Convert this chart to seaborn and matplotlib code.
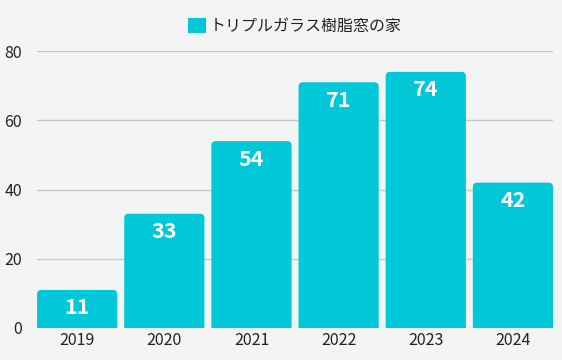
import matplotlib
matplotlib.use("Agg")
import matplotlib.pyplot as plt
import pandas as pd
import seaborn as sns
from matplotlib.patches import FancyBboxPatch, Patch

years = ["2019", "2020", "2021", "2022", "2023", "2024"]
values = [11, 33, 54, 71, 74, 42]
series_name = "トリプルガラス樹脂窓の家"

bar_color = "#00c8d8"
bg = "#f3f4f4"

sns.set_theme(style="white")
plt.rcParams['font.family'] = ['Noto Sans CJK JP', 'DejaVu Sans']

df = pd.DataFrame({"year": years, "value": values})

fig = plt.figure(figsize=(5.62, 3.6), dpi=100, facecolor=bg)
ax = fig.add_axes([0.066, 0.089, 0.918, 0.769])
ax.set_facecolor(bg)

sns.barplot(data=df, x="year", y="value", color=bar_color, width=0.92,
            saturation=1, ax=ax)

ax.set_xlim(-0.46, 5.46)
ax.set_ylim(0, 80)

# swap plain bars for ones with rounded top corners
x_px = 516 / 5.92
y_px = 277 / 80
aspect = x_px / y_px
for p in list(ax.patches):
    x, w, h = p.get_x(), p.get_width(), p.get_height()
    p.set_visible(False)
    rb = FancyBboxPatch((x, -5), w, h + 5,
                        boxstyle="round,pad=0,rounding_size=0.05",
                        mutation_aspect=aspect, facecolor=bar_color,
                        edgecolor="none", zorder=2, clip_on=True)
    ax.add_patch(rb)

for i, v in enumerate(values):
    ax.annotate(str(v), (i, v), xytext=(0, -13), textcoords="offset points",
                ha="center", va="center", color="white", fontsize=15.5,
                fontweight="bold")

ax.set_yticks([0, 20, 40, 60, 80])
ax.grid(axis="y", color="#c8c8c8", linewidth=1, zorder=0)
ax.set_axisbelow(True)
for s in ax.spines.values():
    s.set_visible(False)
ax.tick_params(axis="both", length=0, labelsize=11.5, colors="#222222")
ax.tick_params(axis="y", pad=11)
ax.tick_params(axis="x", pad=3)
ax.set_xlabel("")
ax.set_ylabel("")

handle = Patch(facecolor=bar_color, edgecolor="none", label=series_name)
leg = ax.legend(handles=[handle], loc="lower center", bbox_to_anchor=(0.5, 1.035),
                frameon=False, fontsize=11.5, handlelength=1.1, handleheight=1.1,
                handletextpad=0.25, borderaxespad=0)
for t in leg.get_texts():
    t.set_color("#222222")

fig.savefig("out.png", dpi=100, facecolor=bg)
